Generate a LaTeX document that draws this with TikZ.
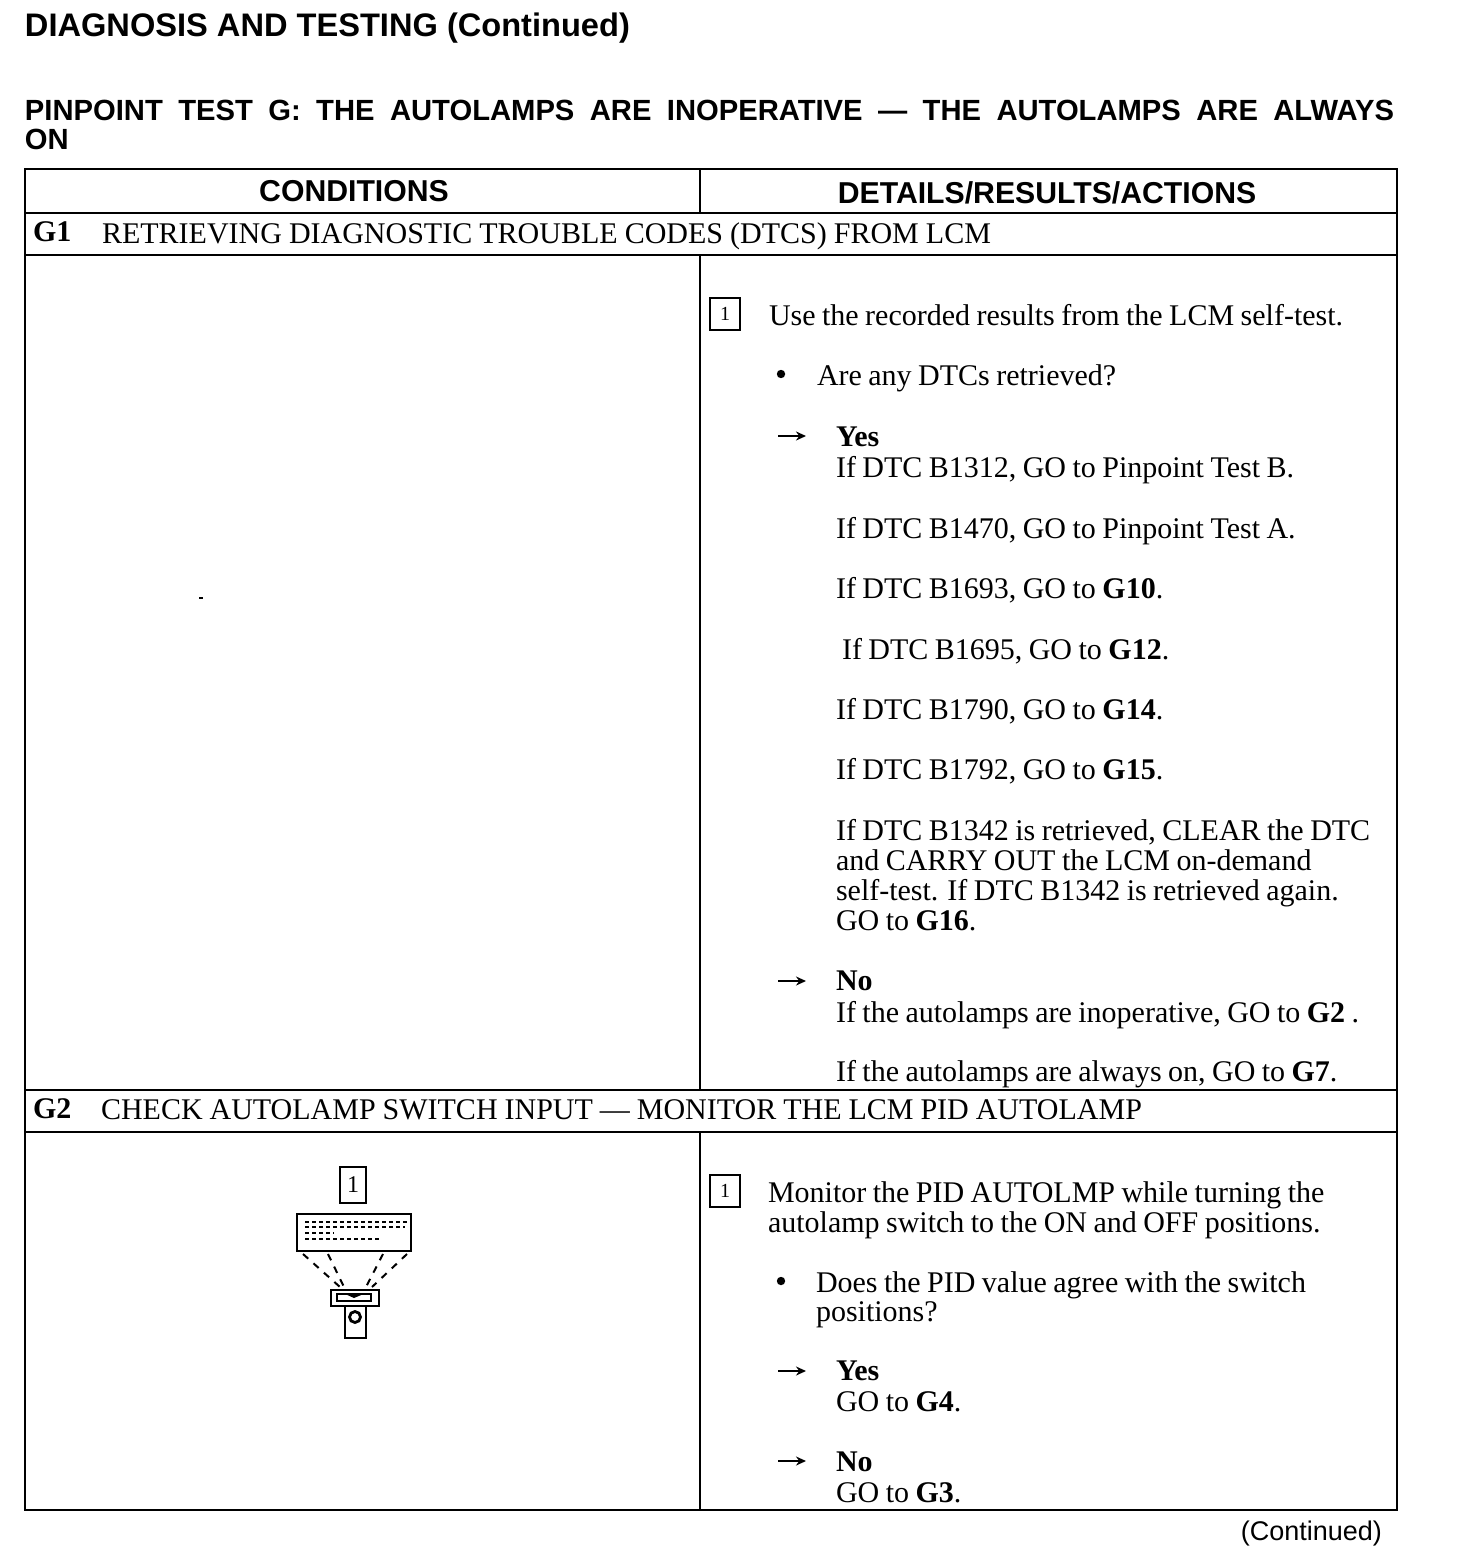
\documentclass[tikz,border=0pt]{standalone}
\usepackage{fontspec}
\usetikzlibrary{arrows.meta}
\setmainfont{Liberation Serif}[WordSpace=0.86]
\newfontfamily\hd{Liberation Sans}[BoldFont={Liberation Sans Bold}]
\begin{document}
\begin{tikzpicture}[x=0.5pt,y=-0.5pt,
 every node/.style={inner sep=0,outer sep=0},
 tx/.style={anchor=base west,font=\fontsize{15}{15}\selectfont},
 ttl/.style={anchor=base west,font=\hd\bfseries\fontsize{14.6}{15}\selectfont},
 head/.style={anchor=base,font=\hd\bfseries\fontsize{15.1}{15}\selectfont},
 num/.style={draw,line width=0.9pt,minimum width=15pt,minimum height=16pt,font=\fontsize{10}{10}\selectfont},
 rule/.style={line width=1.2pt},
 arr/.style={line width=1pt,-{Stealth[length=5pt,width=4.5pt]}},
 bul/.style={fill,circle,minimum size=4.2pt},
 dev/.style={line width=1.4pt},
 ray/.style={line width=1pt,dash pattern=on 3.5pt off 3.5pt},
 scr/.style={line width=0.8pt,dash pattern=on 2pt off 1.5pt}]
\useasboundingbox (0,0) rectangle (1456,1562);
\fill[white] (0,0) rectangle (1456,1562);
\node[ttl,font=\hd\bfseries\fontsize{16.3}{16}\selectfont] (t1) at (25,37) {DIAGNOSIS AND TESTING (Continued)};
\node[ttl] (t2) at (25,121) {\hbox to 684.5pt{PINPOINT TEST G: THE AUTOLAMPS ARE INOPERATIVE — THE AUTOLAMPS ARE ALWAYS}};
\node[ttl] (t3) at (25,150) {ON};
% table
\draw[rule] (25,169) rectangle (1397,1510);
\draw[rule] (25,213) -- (1397,213);
\draw[rule] (25,255) -- (1397,255);
\draw[rule] (25,1090) -- (1397,1090);
\draw[rule] (25,1132) -- (1397,1132);
\draw[rule] (700,169) -- (700,213);
\draw[rule] (700,255) -- (700,1090);
\draw[rule] (700,1132) -- (700,1510);
\node[head] (h1) at (354,202) {CONDITIONS};
\node[head] (h2) at (1047,204) {DETAILS/RESULTS/ACTIONS};
\node[tx] (g1) at (33,242) {\textbf{G1}};
\node[tx] (g1t) at (102,243) {\hbox to 444.5pt{RETRIEVING DIAGNOSTIC TROUBLE CODES (DTCS) FROM LCM}};
\node[tx] (g2) at (33,1118) {\textbf{G2}};
\node[tx] (g2t) at (101,1119) {\hbox to 520.5pt{CHECK AUTOLAMP SWITCH INPUT — MONITOR THE LCM PID AUTOLAMP}};
% G1 body
\node[num] (n1) at (725,314) {1};
\node[tx] (a1) at (769,325) {Use the recorded results from the LCM self-test.};
\node[bul] (b1) at (781,374) {};
\node[tx] (a2) at (817,385) {Are any DTCs retrieved?};
\coordinate (y1a) at (778,436); \coordinate (y1b) at (806,436);
\draw[arr] (y1a) -- (y1b);
\node[tx] (a3) at (836,446) {\textbf{Yes}};
\node[tx] (a4) at (836,477) {If DTC B1312, GO to Pinpoint Test B.};
\node[tx] (a5) at (836,538) {If DTC B1470, GO to Pinpoint Test A.};
\node[tx] (a6) at (836,598) {If DTC B1693, GO to \textbf{G10}.};
\node[tx] (a7) at (842,659) {If DTC B1695, GO to \textbf{G12}.};
\node[tx] (a8) at (836,719) {If DTC B1790, GO to \textbf{G14}.};
\node[tx] (a9) at (836,779) {If DTC B1792, GO to \textbf{G15}.};
\node[tx] (a10) at (836,840) {If DTC B1342 is retrieved, CLEAR the DTC};
\node[tx] (a11) at (836,870) {and CARRY OUT the LCM on-demand};
\node[tx] (a12) at (836,900) {self-test. If DTC B1342 is retrieved again.};
\node[tx] (a13) at (836,930) {GO to \textbf{G16}.};
\coordinate (n1a) at (778,981); \coordinate (n1b) at (806,981);
\draw[arr] (n1a) -- (n1b);
\node[tx] (a14) at (836,990) {\textbf{No}};
\node[tx] (a15) at (836,1022) {If the autolamps are inoperative, GO to \textbf{G2} .};
\node[tx] (a16) at (836,1081) {If the autolamps are always on, GO to \textbf{G7}.};
% G2 body
\node[num] (n2) at (725,1191) {1};
\node[tx] (c1) at (768,1202) {Monitor the PID AUTOLMP while turning the};
\node[tx] (c2) at (768,1232) {autolamp switch to the ON and OFF positions.};
\node[bul] (b2) at (781,1281) {};
\node[tx] (c3) at (816,1292) {Does the PID value agree with the switch};
\node[tx] (c4) at (816,1321) {positions?};
\coordinate (y2a) at (778,1371); \coordinate (y2b) at (806,1371);
\draw[arr] (y2a) -- (y2b);
\node[tx] (c5) at (836,1380) {\textbf{Yes}};
\node[tx] (c6) at (836,1411) {GO to \textbf{G4}.};
\coordinate (n2a) at (778,1461); \coordinate (n2b) at (806,1461);
\draw[arr] (n2a) -- (n2b);
\node[tx] (c7) at (836,1471) {\textbf{No}};
\node[tx] (c8) at (836,1502) {GO to \textbf{G3}.};
% illustration
\node[draw,line width=0.9pt,minimum width=13pt,minimum height=18pt,font=\fontsize{12}{12}\selectfont] (m1) at (353,1185) {1};
\draw[dev] (297,1214) rectangle (411,1251);
\foreach \yy/\xa/\xb in {1222/305/408,1227/305/405,1233/305/334,1239/305/380}
  \draw[scr] (\xa,\yy) -- (\xb,\yy);
\draw[ray] (303,1254) -- (340,1287);
\draw[ray] (328,1254) -- (344,1287);
\draw[ray] (383,1254) -- (366,1287);
\draw[ray] (407,1254) -- (372,1287);
\draw[dev] (331,1290) rectangle (379,1306);
\draw[dev,fill=white] (337,1294) rectangle (371,1301);
\fill (343,1293) -- (366,1293) -- (354,1298) -- cycle;
\draw[dev] (345,1306) rectangle (366,1338);
\draw[dev] (355,1317) circle[radius=5.5];
\node[anchor=base east,font=\hd\fontsize{13.5}{13}\selectfont] (co) at (1382,1540) {(Continued)};
\fill (199,597) rectangle (203,599);
\end{tikzpicture}
\end{document}
